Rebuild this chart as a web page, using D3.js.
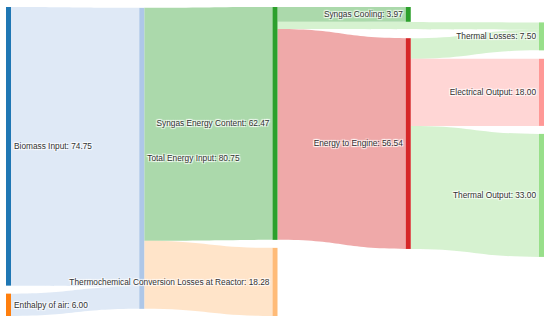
<!DOCTYPE html>
<html>
<head>
<meta charset="utf-8">
<script src="https://cdn.jsdelivr.net/npm/d3@7"></script>
<style>
  body { margin: 0; background: #fff; }
  .lbl {
    font-family: "Liberation Sans", Arial, sans-serif;
    font-size: 8.3px;
    fill: #333;
    text-shadow: 1px 1px 1px #fff, -1px -1px 1px #fff, 1px -1px 1px #fff, -1px 1px 1px #fff;
  }
</style>
</head>
<body>
<div id="chart-area"></div>
<script>
// node data
const nodeLabels = [
  "Biomass Input", "Enthalpy of air", "Total Energy Input", "Syngas Energy Content",
  "Thermochemical Conversion Losses at Reactor", "Syngas Cooling", "Energy to Engine",
  "Thermal Losses", "Electrical Output", "Thermal Output"
];
const nodeColors = [
  "#1f77b4", "#ff7f0e", "#aec7e8", "#2ca02c", "#ffbb78",
  "#2ca02c", "#d62728", "#98df8a", "#ff9896", "#98df8a"
];

// link data
const linkSources = [0, 1, 2, 2, 3, 3, 3, 6, 6, 6];
const linkTargets = [2, 2, 3, 4, 5, 7, 6, 7, 8, 9];
const linkValues  = [74.75, 6.00, 62.47, 18.28, 3.97, 1.96, 56.54, 5.54, 18.00, 33.00];

const W = 550, H = 324;
const ext = {x0: 6, y0: 7, x1: 544, y1: 316};
const dx = 5;     // node thickness
let py = 8;       // node padding
const iterations = 32;

let svg = d3.select("#chart-area")
  .append("svg")
    .attr("width", W)
    .attr("height", H);

// ---- build graph ----
let nodes = nodeLabels.map((name, i) => ({index: i, name: name, color: nodeColors[i], sourceLinks: [], targetLinks: []}));
let links = linkValues.map((v, i) => ({index: i, source: nodes[linkSources[i]], target: nodes[linkTargets[i]], value: v}));
links.forEach(l => { l.source.sourceLinks.push(l); l.target.targetLinks.push(l); });
nodes.forEach(n => {
  n.value = Math.max(d3.sum(n.sourceLinks, l => l.value), d3.sum(n.targetLinks, l => l.value));
});

// depths (left aligned)
let current = new Set(nodes), next = new Set(), depth = 0;
while (current.size) {
  current.forEach(n => { n.depth = depth; n.sourceLinks.forEach(l => next.add(l.target)); });
  depth++;
  current = next; next = new Set();
}
const nCols = d3.max(nodes, d => d.depth) + 1;
let x = d3.scaleLinear().domain([0, nCols - 1]).range([ext.x0, ext.x1 - dx]);
let columns = d3.range(nCols).map(() => []);
nodes.forEach(n => {
  n.layer = n.depth;
  n.x0 = x(n.layer);
  n.x1 = n.x0 + dx;
  columns[n.layer].push(n);
});

// breadths
const ascBreadth = (a, b) => a.y0 - b.y0;
const ascSource = (a, b) => ascBreadth(a.source, b.source) || a.index - b.index;
const ascTarget = (a, b) => ascBreadth(a.target, b.target) || a.index - b.index;

py = Math.min(py, (ext.y1 - ext.y0) / (d3.max(columns, c => c.length) - 1));
const ky = d3.min(columns, c => (ext.y1 - ext.y0 - (c.length - 1) * py) / d3.sum(c, n => n.value));
let size = d3.scaleLinear().domain([0, 1]).range([0, ky]);

columns.forEach(col => {
  let y = ext.y0;
  col.forEach(n => {
    n.y0 = y;
    n.y1 = y + size(n.value);
    y = n.y1 + py;
    n.sourceLinks.forEach(l => l.width = size(l.value));
  });
  y = (ext.y1 - y + py) / (col.length + 1);
  col.forEach((n, i) => { n.y0 += y * (i + 1); n.y1 += y * (i + 1); });
  col.forEach(n => { n.sourceLinks.sort(ascTarget); n.targetLinks.sort(ascSource); });
});

function reorderNodeLinks(n) {
  n.targetLinks.forEach(l => l.source.sourceLinks.sort(ascTarget));
  n.sourceLinks.forEach(l => l.target.targetLinks.sort(ascSource));
}
function targetTop(s, t) {
  let y = s.y0 - (s.sourceLinks.length - 1) * py / 2;
  for (const l of s.sourceLinks) { if (l.target === t) break; y += l.width + py; }
  for (const l of t.targetLinks) { if (l.source === s) break; y -= l.width; }
  return y;
}
function sourceTop(s, t) {
  let y = t.y0 - (t.targetLinks.length - 1) * py / 2;
  for (const l of t.targetLinks) { if (l.source === s) break; y += l.width + py; }
  for (const l of s.sourceLinks) { if (l.target === t) break; y -= l.width; }
  return y;
}
function collideDown(col, y, i, a) {
  for (; i < col.length; ++i) {
    const n = col[i], d = (y - n.y0) * a;
    if (d > 1e-6) { n.y0 += d; n.y1 += d; }
    y = n.y1 + py;
  }
}
function collideUp(col, y, i, a) {
  for (; i >= 0; --i) {
    const n = col[i], d = (n.y1 - y) * a;
    if (d > 1e-6) { n.y0 -= d; n.y1 -= d; }
    y = n.y0 - py;
  }
}
function resolve(col, a) {
  const i = col.length >> 1, sub = col[i];
  collideUp(col, sub.y0 - py, i - 1, a);
  collideDown(col, sub.y1 + py, i + 1, a);
  collideUp(col, ext.y1, col.length - 1, a);
  collideDown(col, ext.y0, 0, a);
}
function relaxLeftToRight(alpha, beta) {
  for (let i = 1; i < columns.length; ++i) {
    const col = columns[i];
    col.forEach(t => {
      let y = 0, w = 0;
      t.targetLinks.forEach(l => {
        const v = l.value * (t.layer - l.source.layer);
        y += targetTop(l.source, t) * v; w += v;
      });
      if (!(w > 0)) return;
      const d = (y / w - t.y0) * alpha;
      t.y0 += d; t.y1 += d;
      reorderNodeLinks(t);
    });
    col.sort(ascBreadth);
    resolve(col, beta);
  }
}
function relaxRightToLeft(alpha, beta) {
  for (let i = columns.length - 2; i >= 0; --i) {
    const col = columns[i];
    col.forEach(s => {
      let y = 0, w = 0;
      s.sourceLinks.forEach(l => {
        const v = l.value * (l.target.layer - s.layer);
        y += sourceTop(s, l.target) * v; w += v;
      });
      if (!(w > 0)) return;
      const d = (y / w - s.y0) * alpha;
      s.y0 += d; s.y1 += d;
      reorderNodeLinks(s);
    });
    col.sort(ascBreadth);
    resolve(col, beta);
  }
}
for (let i = 0; i < iterations; ++i) {
  const alpha = Math.pow(0.99, i);
  const beta = Math.max(1 - alpha, (i + 1) / iterations);
  relaxRightToLeft(alpha, beta);
  relaxLeftToRight(alpha, beta);
}
nodes.forEach(n => {
  let a = n.y0, b = n.y0;
  n.sourceLinks.forEach(l => { l.sy0 = a; a += l.width; });
  n.targetLinks.forEach(l => { l.ty0 = b; b += l.width; });
});

// ---- links ----
function linkPath(l) {
  const xs = l.source.x1, xt = l.target.x0, xm = (xs + xt) / 2;
  const p = d3.path();
  p.moveTo(xs, l.sy0);
  p.bezierCurveTo(xm, l.sy0, xm, l.ty0, xt, l.ty0);
  p.lineTo(xt, l.ty0 + l.width);
  p.bezierCurveTo(xm, l.ty0 + l.width, xm, l.sy0 + l.width, xs, l.sy0 + l.width);
  p.closePath();
  return p.toString();
}
svg.append("g")
  .selectAll("path")
  .data(links)
  .enter()
  .append("path")
    .attr("d", linkPath)
    .attr("fill", d => d.target.color)
    .attr("fill-opacity", 0.4);

// ---- nodes ----
svg.append("g")
  .selectAll("rect")
  .data(nodes)
  .enter()
  .append("rect")
    .attr("x", d => d.x0)
    .attr("y", d => d.y0)
    .attr("width", d => d.x1 - d.x0)
    .attr("height", d => d.y1 - d.y0)
    .attr("fill", d => d.color);

// ---- labels ----
svg.append("g")
  .selectAll("text")
  .data(nodes)
  .enter()
  .append("text")
    .attr("class", "lbl")
    .attr("x", d => d.x1 < W / 2 ? d.x1 + 3 : d.x0 - 3)
    .attr("y", d => (d.y0 + d.y1) / 2)
    .attr("dy", "0.35em")
    .attr("text-anchor", d => d.x1 < W / 2 ? "start" : "end")
    .text(d => d.name + ": " + d.value.toFixed(2));
</script>
</body>
</html>
